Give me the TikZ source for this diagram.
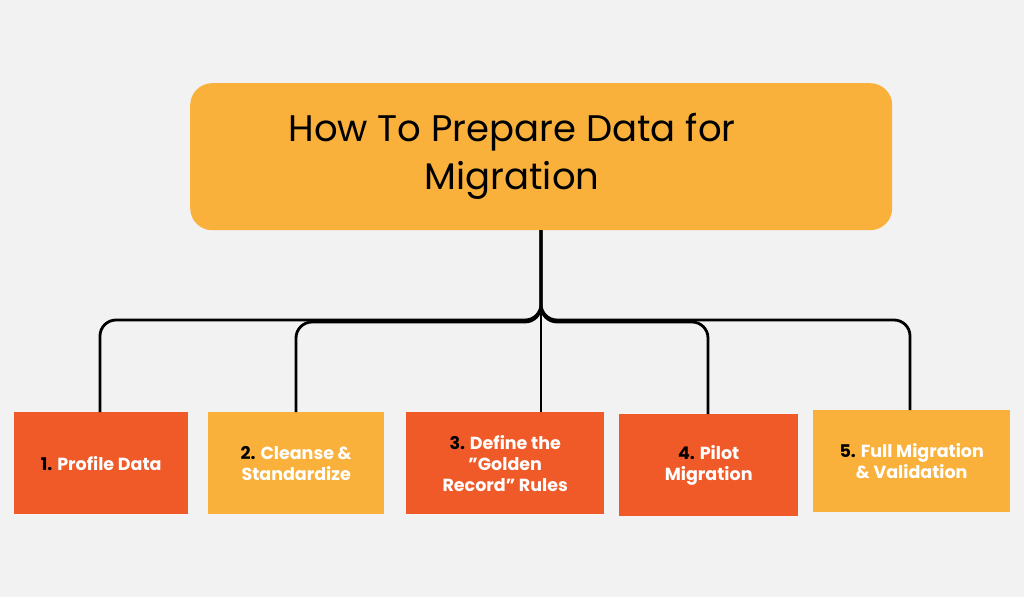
\documentclass[tikz,border=0pt]{standalone}
\usepackage{fontspec}
\setmainfont{Poppins}
\definecolor{bg}{HTML}{F2F2F2}
\definecolor{lor}{HTML}{F9B13C}
\definecolor{ror}{HTML}{F05A28}
\begin{document}
\begin{tikzpicture}[x=1pt,y=-1pt,
  box/.style={minimum width=#1,minimum height=102pt,inner sep=2pt,align=center,text=white,font=\fontsize{17.5}{21}\selectfont\bfseries,anchor=north west},
  link/.style={draw=black,line width=2.8pt,rounded corners=16pt}]
\fill[bg] (0,0) rectangle (1024,597);
\useasboundingbox (0,0) rectangle (1024,597);
\node[fill=lor,rounded corners=22pt,minimum width=702pt,minimum height=147pt,anchor=north west] (title) at (190,83) {};
\node[align=center,font=\fontsize{37}{48}\selectfont] (titletext) at (512,156) {How To Prepare Data for\\Migration};
\node[box=174pt,fill=ror] (b1) at (14,412) {\textcolor{black}{1.} Profile Data};
\node[box=176pt,fill=lor] (b2) at (208,412) {\textcolor{black}{2.} Cleanse \&\\Standardize};
\node[box=198pt,fill=ror] (b3) at (406,412) {\textcolor{black}{3.} Define the\\”Golden\\Record” Rules};
\node[box=179pt,fill=ror] (b4) at (619,414) {\textcolor{black}{4.} Pilot\\Migration};
\node[box=197pt,fill=lor] (b5) at (813,410) {\textcolor{black}{5.} Full Migration\\\& Validation};
\coordinate (t) at (541,230);
\draw[link] (t) -- (541,320) -| (100,412);
\draw[link] (t) -- (541,322) -| (296,412);
\draw[link] (t) -- (541,412);
\draw[link] (t) -- (541,322) -| (708,414);
\draw[link] (t) -- (541,320) -| (910,410);
\end{tikzpicture}
\end{document}
